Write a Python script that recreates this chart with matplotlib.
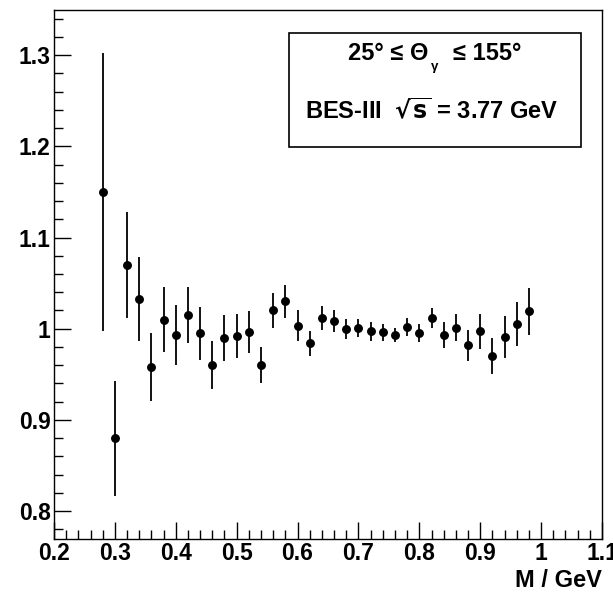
import matplotlib
matplotlib.use('Agg')
import matplotlib.pyplot as plt
from matplotlib.patches import Rectangle
from matplotlib.ticker import MultipleLocator, FixedLocator

plt.rcParams['font.family'] = ['Liberation Sans', 'DejaVu Sans']
plt.rcParams['font.weight'] = 'bold'

# ratio vs invariant mass
mass = [0.28, 0.30, 0.32, 0.34, 0.36, 0.38, 0.40, 0.42, 0.44, 0.46, 0.48, 0.50,
        0.52, 0.54, 0.56, 0.58, 0.60, 0.62, 0.64, 0.66, 0.68, 0.70, 0.72, 0.74,
        0.76, 0.78, 0.80, 0.82, 0.84, 0.86, 0.88, 0.90, 0.92, 0.94, 0.96, 0.98]
ratio = [1.150, 0.880, 1.070, 1.033, 0.958, 1.010, 0.993, 1.015, 0.995, 0.960, 0.990, 0.992,
         0.996, 0.960, 1.020, 1.030, 1.003, 0.984, 1.012, 1.008, 1.000, 1.001, 0.997, 0.996,
         0.993, 1.002, 0.995, 1.012, 0.993, 1.001, 0.982, 0.997, 0.970, 0.991, 1.005, 1.019]
err = [0.152, 0.063, 0.058, 0.046, 0.037, 0.036, 0.033, 0.031, 0.029, 0.026, 0.025, 0.024,
       0.023, 0.020, 0.019, 0.018, 0.017, 0.014, 0.013, 0.012, 0.011, 0.010, 0.010, 0.009,
       0.008, 0.010, 0.010, 0.011, 0.014, 0.015, 0.017, 0.019, 0.020, 0.023, 0.024, 0.026]

x_ticks = [0.2, 0.3, 0.4, 0.5, 0.6, 0.7, 0.8, 0.9, 1.0, 1.1]
x_labels = ['0.2', '0.3', '0.4', '0.5', '0.6', '0.7', '0.8', '0.9', '1', '1.1']
y_ticks = [0.8, 0.9, 1.0, 1.1, 1.2, 1.3]
y_labels = ['0.8', '0.9', '1', '1.1', '1.2', '1.3']

W, H = 613, 593
fig = plt.figure(figsize=(W / 100, H / 100), dpi=100)
ax = fig.add_axes([54 / W, 1 - 538.5 / H, 548 / W, 529 / H])

ax.errorbar(mass, ratio, yerr=err, fmt='o', color='black', markersize=5.4,
            elinewidth=1.3, capsize=0)

ax.set_xlim(0.2, 1.1)
ax.set_ylim(0.77, 1.35)

ax.xaxis.set_major_locator(FixedLocator(x_ticks))
ax.set_xticklabels(x_labels)
ax.yaxis.set_major_locator(FixedLocator(y_ticks))
ax.set_yticklabels(y_labels)
ax.xaxis.set_minor_locator(MultipleLocator(0.02))
ax.yaxis.set_minor_locator(MultipleLocator(0.02))
ax.tick_params(which='both', direction='in', top=False, right=False, width=1.0,
               labelsize=16.5)
ax.tick_params(which='major', length=12.5, pad=2.5)
ax.tick_params(which='minor', length=6.5)
for lbl in ax.get_xticklabels() + ax.get_yticklabels():
    lbl.set_fontweight('bold')
for s in ax.spines.values():
    s.set_linewidth(1.0)

fig.text(602 / W, 1 - 587 / H, 'M / GeV', ha='right', va='baseline',
         fontsize=17, fontweight='bold')

# info box
box = Rectangle((289 / W, 1 - 147 / H), 292 / W, 114 / H,
                transform=fig.transFigure, fill=False, edgecolor='black', linewidth=1.2)
fig.patches.append(box)
fig.text(428 / W, 1 - 60 / H, '25° ≤ Θ', ha='right', va='baseline',
         fontsize=17, fontweight='bold')
fig.text(431 / W, 1 - 70 / H, 'γ', ha='left', va='baseline',
         fontsize=9.5, fontweight='bold')
fig.text(453 / W, 1 - 60 / H, '≤ 155°', ha='left', va='baseline',
         fontsize=17, fontweight='bold')
fig.text(431.5 / W, 1 - 118 / H, r'BES-III  $\mathbf{\sqrt{s}}$ = 3.77 GeV',
         ha='center', va='baseline', fontsize=17, fontweight='bold')

fig.savefig('out.png', dpi=100)
